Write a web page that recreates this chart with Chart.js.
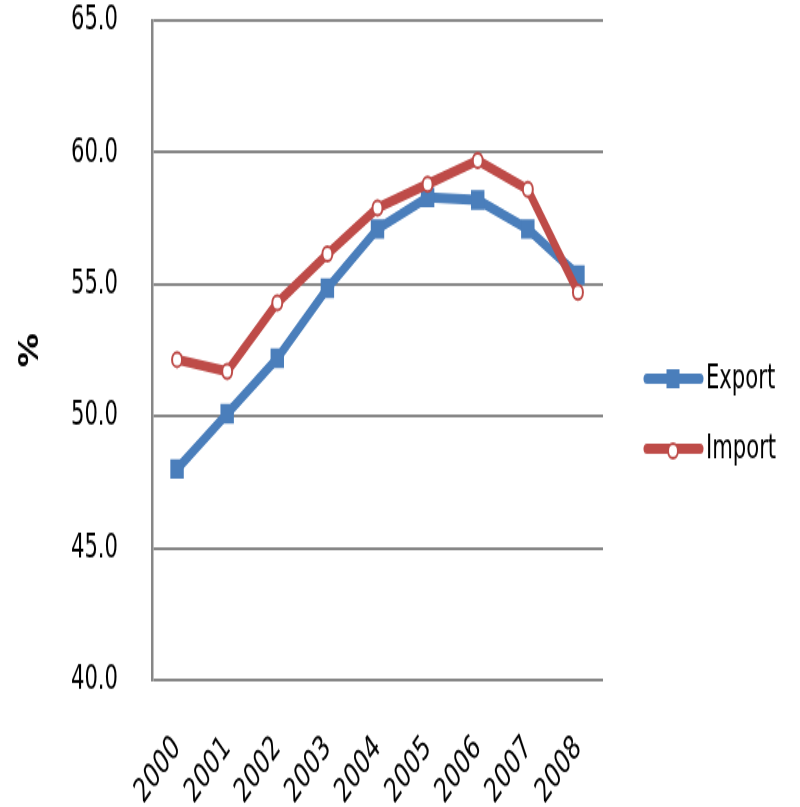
<!DOCTYPE html>
<html>
<head>
<meta charset="utf-8">
<script src="https://cdn.jsdelivr.net/npm/chart.js@4/dist/chart.umd.min.js"></script>
<style>
  html, body { margin: 0; padding: 0; background: #fff; width: 800px; height: 807px; }
  /* El original está estirado en vertical: dibujamos a 800x553 y escalamos */
  #wrap { width: 800px; height: 553px; transform: scaleY(1.4593); transform-origin: 0 0; }
</style>
</head>
<body>
<div id="wrap"><canvas id="chart" width="800" height="553"></canvas></div>
<script>
// Datos
const years = ['2000', '2001', '2002', '2003', '2004', '2005', '2006', '2007', '2008'];
const exportValues = [48.0, 50.1, 52.2, 54.85, 57.1, 58.3, 58.2, 57.1, 55.35];
const importValues = [52.15, 51.7, 54.3, 56.15, 57.9, 58.8, 59.7, 58.6, 54.7];
const yTicks = [40, 45, 50, 55, 60, 65];

const blue = '#4A7EBB';
const red = '#BE4B48';
const fontFamily = "'Liberation Sans Narrow', 'DejaVu Sans Condensed', 'Liberation Sans', sans-serif";
const fontSize = 23.5;

// Leyenda dibujada a mano (línea + marcador)
const legendPlugin = {
    id: 'customLegend',
    afterDraw(chart) {
        const ctx = chart.ctx;
        const items = [
            { label: 'Export', color: blue, style: 'rect', y: 259.5 },
            { label: 'Import', color: red, style: 'circle', y: 307.5 }
        ];
        ctx.save();
        items.forEach(item => {
            ctx.strokeStyle = item.color;
            ctx.lineWidth = 7;
            ctx.lineCap = 'round';
            ctx.beginPath();
            ctx.moveTo(647, item.y);
            ctx.lineTo(700, item.y);
            ctx.stroke();
            if (item.style === 'rect') {
                ctx.fillStyle = item.color;
                ctx.fillRect(666.5, item.y - 6.5, 13, 13);
            } else {
                ctx.fillStyle = '#fff';
                ctx.lineWidth = 2;
                ctx.beginPath();
                ctx.arc(673, item.y + 1.5, 5, 0, Math.PI * 2);
                ctx.fill();
                ctx.stroke();
            }
            ctx.fillStyle = '#000';
            ctx.font = fontSize + 'px ' + fontFamily;
            ctx.textBaseline = 'middle';
            ctx.textAlign = 'left';
            ctx.fillText(item.label, 706, item.y);
        });
        ctx.restore();
    }
};

const ctx = document.getElementById('chart').getContext('2d');
new Chart(ctx, {
    type: 'line',
    data: {
        labels: years,
        datasets: [
            {
                label: 'Export',
                data: exportValues,
                borderColor: blue,
                backgroundColor: blue,
                borderWidth: 7,
                pointStyle: 'rect',
                pointRadius: 9.5,
                pointBorderWidth: 0,
                pointBackgroundColor: blue,
                tension: 0,
                order: 2
            },
            {
                label: 'Import',
                data: importValues,
                borderColor: red,
                backgroundColor: '#fff',
                borderWidth: 7,
                pointStyle: 'circle',
                pointRadius: 5,
                pointBorderWidth: 2,
                pointBorderColor: red,
                pointBackgroundColor: '#fff',
                tension: 0,
                order: 1
            }
        ]
    },
    options: {
        responsive: false,
        animation: false,
        layout: { padding: { left: 0, right: 197, top: 13.7, bottom: 0 } },
        plugins: {
            legend: { display: false },
            tooltip: { enabled: false }
        },
        scales: {
            x: {
                offset: true,
                grid: { display: false, drawTicks: false },
                border: { display: false },
                ticks: {
                    color: '#000',
                    font: { family: fontFamily, size: fontSize },
                    autoSkip: false,
                    minRotation: 45,
                    maxRotation: 45,
                    padding: 33
                },
                afterFit: scale => { scale.height = 87; }
            },
            y: {
                min: 40,
                max: 65,
                afterBuildTicks: scale => { scale.ticks = yTicks.map(v => ({ value: v })); },
                grid: { color: '#878787', lineWidth: 2, drawTicks: true, tickLength: 34, tickColor: 'rgba(0,0,0,0)' },
                border: { display: true, color: '#878787', width: 2.5 },
                ticks: {
                    color: '#000',
                    font: { family: fontFamily, size: fontSize },
                    padding: 0,
                    callback: v => v.toFixed(1)
                },
                title: {
                    display: true,
                    text: '%',
                    color: '#000',
                    font: { family: fontFamily, size: 26, weight: 'bold' },
                    padding: { top: 16, bottom: 0 }
                },
                afterFit: scale => { scale.width = 152; }
            }
        }
    },
    plugins: [legendPlugin]
});
</script>
</body>
</html>
